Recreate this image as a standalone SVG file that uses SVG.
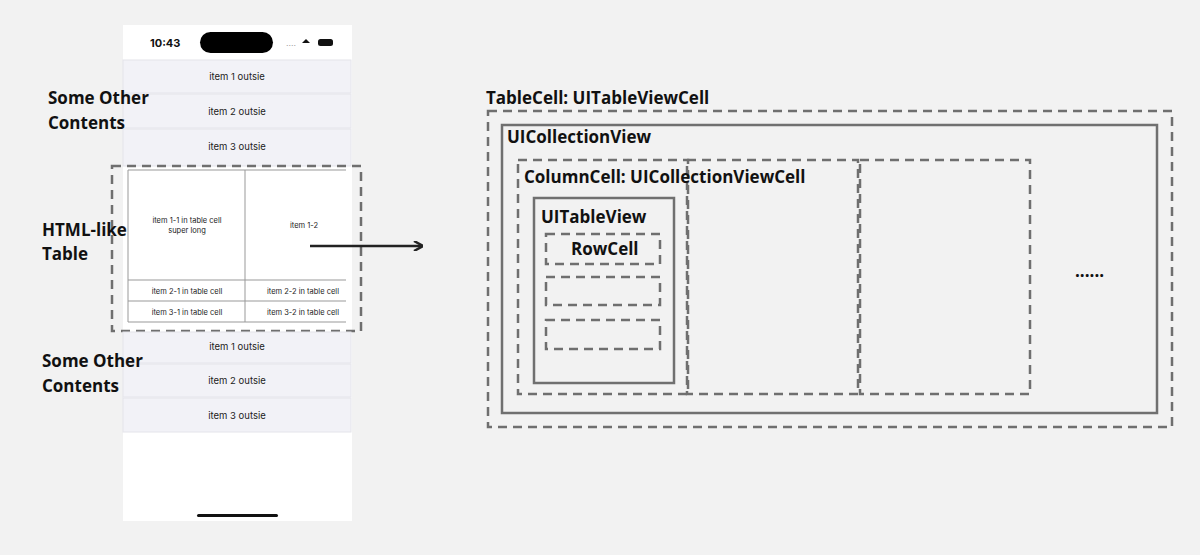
<svg xmlns="http://www.w3.org/2000/svg" width="1200" height="555" viewBox="0 0 1200 555">
<style>
.b{font-family:"Open Sans","Noto Sans",sans-serif;font-weight:bold;font-size:17px;fill:#111}
.s{font-family:Inter,"Liberation Sans",sans-serif;font-size:9.5px;fill:#222;text-anchor:middle}
.t{font-family:Inter,"Liberation Sans",sans-serif;font-size:7.5px;fill:#222;text-anchor:middle}
.row{fill:#f2f2f7;stroke:#e4e4ea;stroke-width:1}
.d{fill:none;stroke:#6f6f6f;stroke-width:2.5;stroke-dasharray:9 6}
.sol{fill:none;stroke:#707070;stroke-width:2.5}
.g{stroke:#999;stroke-width:1}
</style>
<defs><marker id="ah" markerWidth="10" markerHeight="10" refX="9" refY="5" orient="auto" markerUnits="userSpaceOnUse"><path d="M1,0 L10,5 L1,10" fill="none" stroke="#222" stroke-width="2.5"/></marker></defs>
<rect width="1200" height="555" fill="#f2f2f2"/>
<g id="phone">
<rect x="123" y="25" width="229" height="496" fill="#fff"/>
<text x="150" y="47" font-family="Inter,'Liberation Sans',sans-serif" font-weight="bold" font-size="11" fill="#111">10:43</text>
<rect x="200" y="32" width="73" height="21" rx="10.5" fill="#000"/>
<text x="286" y="46" font-family="Liberation Sans,sans-serif" font-size="9" fill="#999">....</text>
<path d="M302,43 l4,-4 l4,4 z" fill="#111"/>
<rect x="318" y="39" width="15" height="7" rx="2.5" fill="#111"/>
<rect x="197" y="514" width="81" height="3" rx="1.5" fill="#111"/>
</g>
<g id="rows-top">
<rect class="row" x="123" y="60" width="228" height="33"/><text class="s" x="237" y="80">item 1 outsie</text>
<rect class="row" x="123" y="94" width="228" height="34"/><text class="s" x="237" y="115">item 2 outsie</text>
<rect class="row" x="123" y="129" width="228" height="37"/><text class="s" x="237" y="150">item 3 outsie</text>
</g>
<g id="table">
<rect x="128" y="170" width="218" height="152" fill="#fff"/>
<path d="M346,170 H128 V322 H346" fill="none" stroke="#999" stroke-width="1"/>
<line class="g" x1="245" y1="170" x2="245" y2="322"/>
<line class="g" x1="128" y1="280" x2="346" y2="280"/>
<line class="g" x1="128" y1="301" x2="346" y2="301"/>
<text class="t" x="187" y="223">item 1-1 in table cell</text>
<text class="t" x="187" y="233">super long</text>
<text class="t" x="304" y="228">item 1-2</text>
<text class="t" x="187" y="294">item 2-1 in table cell</text>
<text class="t" x="303" y="294">item 2-2 in table cell</text>
<text class="t" x="187" y="315">item 3-1 in table cell</text>
<text class="t" x="303" y="315">item 3-2 in table cell</text>
<rect class="d" x="112" y="166" width="249" height="165"/>
</g>
<g id="rows-bottom">
<rect class="row" x="123" y="332" width="228" height="31"/><text class="s" x="237" y="350">item 1 outsie</text>
<rect class="row" x="123" y="364" width="228" height="33"/><text class="s" x="237" y="384">item 2 outsie</text>
<rect class="row" x="123" y="398" width="228" height="34"/><text class="s" x="237" y="419">item 3 outsie</text>
</g>
<g id="labels">
<text class="b" x="48" y="104">Some Other</text><text class="b" x="48" y="129">Contents</text>
<text class="b" x="42" y="236">HTML-like</text><text class="b" x="42" y="260">Table</text>
<text class="b" x="42" y="367">Some Other</text><text class="b" x="42" y="392">Contents</text>
</g>
<g id="connectors"><line x1="310" y1="246" x2="422" y2="246" stroke="#222" stroke-width="2.5" marker-end="url(#ah)"/></g>
<g id="tablecell"><rect class="d" x="488" y="111" width="684" height="316"/><text class="b" x="486" y="104">TableCell: UITableViewCell</text></g>
<g id="collectionview"><rect class="sol" x="502" y="125" width="655" height="288"/><text class="b" x="507" y="143">UICollectionView</text></g>
<g id="columncells">
<rect class="d" x="518" y="160" width="170" height="234"/>
<rect class="d" x="687" y="160" width="171" height="234"/>
<rect class="d" x="860" y="160" width="170" height="234"/>
<text class="b" x="524" y="183">ColumnCell: UICollectionViewCell</text>
</g>
<g id="tableview"><rect class="sol" x="534" y="198" width="140" height="185"/><text class="b" x="541" y="223">UITableView</text></g>
<g id="rowcells">
<rect class="d" x="546" y="234" width="114" height="30"/><text class="b" x="571" y="255">RowCell</text>
<rect class="d" x="546" y="277" width="114" height="28"/>
<rect class="d" x="546" y="320" width="114" height="29"/>
</g>
<g id="ellipsis"><text class="b" x="1075" y="277">......</text></g>
</svg>
